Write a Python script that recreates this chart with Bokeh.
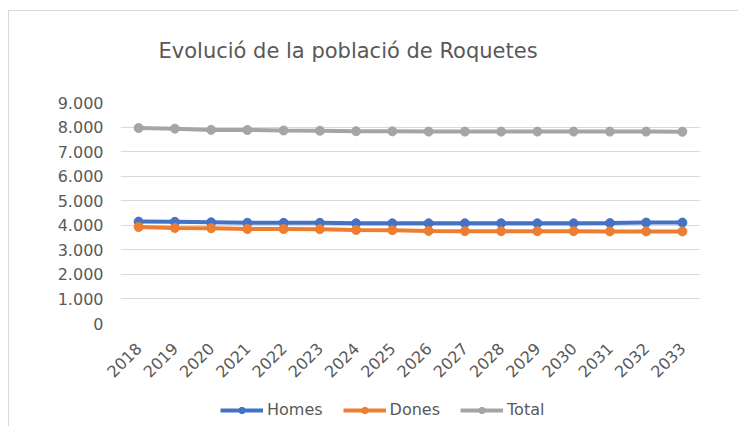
import math
from bokeh.plotting import figure
from bokeh.layouts import column
from bokeh.models import FactorRange, Range1d, FixedTicker, Legend, LegendItem, Label
from bokeh.embed import file_html
from bokeh.resources import INLINE

years = [str(y) for y in range(2018, 2034)]
homes = [4150, 4140, 4120, 4100, 4100, 4100, 4080, 4080, 4080, 4080, 4080, 4080, 4080, 4090, 4110, 4110]
dones = [3930, 3890, 3880, 3850, 3850, 3840, 3810, 3800, 3770, 3760, 3760, 3760, 3760, 3750, 3750, 3750]
total = [7960, 7935, 7885, 7880, 7860, 7850, 7830, 7825, 7815, 7815, 7815, 7815, 7815, 7815, 7815, 7810]
y_ticks = [0, 1000, 2000, 3000, 4000, 5000, 6000, 7000, 8000, 9000]
y_tick_labels = ["0", "1.000", "2.000", "3.000", "4.000", "5.000", "6.000", "7.000", "8.000", "9.000"]
series_names = ["Homes", "Dones", "Total"]
series_colors = ["#4472C4", "#ED7D31", "#A5A5A5"]
title_text = "Evolució de la població de Roquetes"

FONT = "DejaVu Sans"
TXT = "#595959"
W = 738
FL, FR = 120, 700  # frame left/right in page pixels
LINE = "linear-gradient(#d9d9d9,#d9d9d9)"


def strip(h, bg):
    fig = figure(width=W, height=h, x_range=Range1d(FL, FR), y_range=Range1d(0, h),
                 output_backend="svg", toolbar_location=None,
                 min_border_left=FL, min_border_right=W - FR, min_border_top=0, min_border_bottom=0,
                 x_axis_location=None, y_axis_location=None)
    fig.grid.visible = False
    fig.outline_line_color = None
    fig.background_fill_alpha = 0
    fig.border_fill_alpha = 0
    fig.styles = {"background": bg}
    return fig


# --- title strip ---
TH = 90
pt = strip(TH, f"{LINE} 8px 10px / 1px 100% no-repeat, {LINE} 8px 10px / 100% 1px no-repeat")
pt.add_layout(Label(x=158, y=TH - 50, text=title_text, text_font=FONT, text_font_size="21px",
                    text_color=TXT, text_align="left", text_baseline="alphabetic"))

# --- main chart ---
p = figure(width=W, height=300, x_range=FactorRange(*years, range_padding=0),
           y_range=Range1d(0, 9000), output_backend="svg", toolbar_location=None,
           min_border_left=FL, min_border_right=W - FR, min_border_top=12, min_border_bottom=67)
p.styles = {"background": f"{LINE} 8px 0px / 1px 100% no-repeat"}
p.outline_line_color = None
p.background_fill_color = "white"
p.border_fill_alpha = 0
p.xgrid.grid_line_color = None
p.ygrid.grid_line_color = "#d9d9d9"
p.ygrid.grid_line_width = 1
p.yaxis.ticker = FixedTicker(ticks=y_ticks)
p.yaxis.major_label_overrides = {v: s for v, s in zip(y_ticks, y_tick_labels)}
for ax in (p.xaxis[0], p.yaxis[0]):
    ax.axis_line_color = None
    ax.major_tick_line_color = None
    ax.minor_tick_line_color = None
    ax.major_label_text_font = FONT
    ax.major_label_text_font_size = "16px"
    ax.major_label_text_color = TXT
p.yaxis.major_label_standoff = 11
p.xaxis.major_label_orientation = math.pi / 4
p.xaxis.major_label_standoff = 16

for vals, col in zip([homes, dones, total], series_colors):
    p.line(years, vals, line_color=col, line_width=4)
    p.scatter(years, vals, size=9, fill_color=col, line_color=col, marker="circle")

# --- legend strip ---
LH = 36
pl = strip(LH, f"{LINE} 8px 0px / 1px 100% no-repeat")
nan = [float("nan")]
items = []
for name, col in zip(series_names, series_colors):
    r1 = pl.line(x=nan, y=nan, line_color=col, line_width=4)
    r2 = pl.scatter(x=nan, y=nan, size=10, fill_color=col, line_color=col, marker="circle")
    items.append(LegendItem(label=name, renderers=[r1, r2]))
legend = Legend(items=items, orientation="horizontal", location=(220 - FL, 7),
                label_text_font=FONT, label_text_font_size="16px", label_text_color=TXT,
                glyph_width=43, glyph_height=16, label_standoff=4, spacing=20,
                padding=0, margin=0, border_line_color=None, background_fill_alpha=0)
pl.add_layout(legend, "center")

layout = column(pt, p, pl, spacing=0)
open("out.html", "w").write(file_html(layout, INLINE))
